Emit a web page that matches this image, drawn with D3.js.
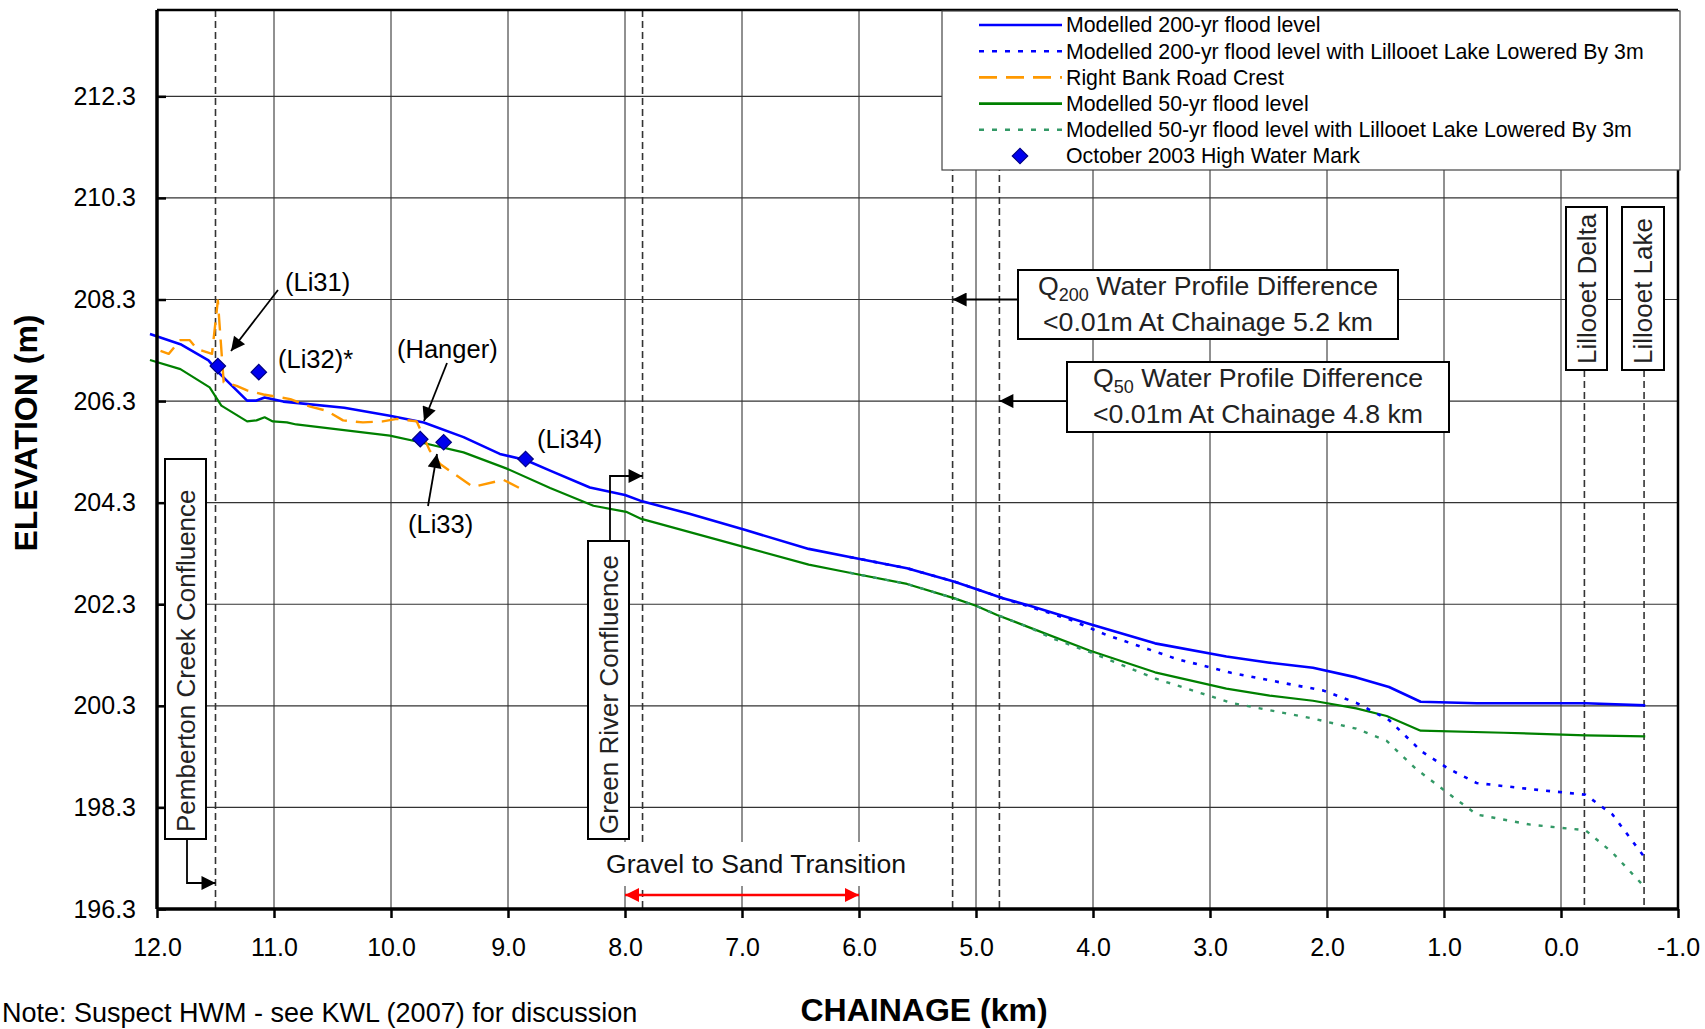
<!DOCTYPE html>
<html>
<head>
<meta charset="utf-8">
<script src="https://cdn.jsdelivr.net/npm/d3@7"></script>
<style>
  body { margin: 0; background: #fff; }
  svg { display: block; font-family: "Liberation Sans", Arial, sans-serif; }
</style>
</head>
<body>
<script>
// chainage (km) and water levels (m)
var q200Km = [12.06, 11.80, 11.56, 11.46, 11.23, 11.15, 11.08, 10.92, 10.40, 10.01, 9.72, 9.38, 9.07, 8.85, 8.64, 8.30, 8.00, 7.87, 7.45, 6.97, 6.43, 6.08, 5.59, 5.19, 5.00, 4.77, 4.54, 4.03, 3.47, 2.86, 2.49, 2.12, 1.75, 1.47, 1.20, 0.72, -0.21, -0.72];
var q200Elev = [207.62, 207.42, 207.10, 206.83, 206.31, 206.31, 206.37, 206.29, 206.17, 206.01, 205.88, 205.59, 205.26, 205.14, 204.93, 204.60, 204.45, 204.34, 204.08, 203.76, 203.39, 203.23, 203.01, 202.75, 202.60, 202.42, 202.27, 201.91, 201.53, 201.27, 201.15, 201.05, 200.86, 200.67, 200.38, 200.35, 200.35, 200.31];

var q200LowKm = [6.08, 5.59, 5.19, 5.00, 4.77, 4.54, 4.21, 3.89, 3.28, 2.82, 2.35, 2.03, 1.75, 1.47, 1.19, 0.96, 0.72, 0.26, -0.21, -0.44, -0.72];
var q200LowElev = [203.23, 203.01, 202.75, 202.60, 202.42, 202.25, 202.01, 201.70, 201.22, 200.95, 200.74, 200.60, 200.36, 200.02, 199.40, 199.06, 198.78, 198.66, 198.55, 198.16, 197.30];

var roadKm = [11.97, 11.90, 11.80, 11.72, 11.66, 11.53, 11.48, 11.43, 11.32, 11.23, 11.09, 10.86, 10.69, 10.55, 10.41, 10.24, 10.07, 9.95, 9.78, 9.67, 9.58, 9.30, 9.04, 8.87];
var roadElev = [207.29, 207.23, 207.50, 207.50, 207.33, 207.23, 208.28, 206.67, 206.60, 206.51, 206.43, 206.34, 206.19, 206.11, 205.92, 205.88, 205.90, 205.95, 205.90, 205.33, 205.06, 204.61, 204.75, 204.55];

var q50Km = [12.06, 11.80, 11.55, 11.45, 11.23, 11.15, 11.08, 11.01, 10.89, 10.81, 10.01, 9.75, 9.38, 9.01, 8.64, 8.27, 7.99, 7.86, 6.97, 6.43, 6.08, 5.59, 5.19, 5.00, 4.82, 4.54, 4.03, 3.47, 2.86, 2.49, 2.12, 1.75, 1.49, 1.20, 0.49, -0.21, -0.72];
var q50Elev = [207.11, 206.93, 206.57, 206.21, 205.90, 205.92, 205.98, 205.90, 205.88, 205.84, 205.62, 205.49, 205.29, 204.97, 204.59, 204.24, 204.12, 203.98, 203.42, 203.08, 202.92, 202.70, 202.42, 202.27, 202.09, 201.84, 201.39, 200.96, 200.64, 200.50, 200.40, 200.25, 200.10, 199.81, 199.77, 199.72, 199.70];

var q50LowKm = [6.08, 5.59, 5.19, 5.00, 4.82, 4.54, 4.35, 4.03, 3.47, 2.82, 2.12, 1.75, 1.49, 1.24, 0.96, 0.72, 0.26, -0.21, -0.44, -0.72];
var q50LowElev = [202.92, 202.70, 202.42, 202.27, 202.09, 201.84, 201.63, 201.36, 200.84, 200.36, 200.05, 199.85, 199.61, 199.06, 198.57, 198.16, 197.96, 197.85, 197.41, 196.72];

var hwmKm = [11.48, 11.13, 9.75, 9.55, 8.85];
var hwmElev = [206.99, 206.87, 205.55, 205.49, 205.16];

var xTicks = [12, 11, 10, 9, 8, 7, 6, 5, 4, 3, 2, 1, 0, -1];
var yTicks = [196.3, 198.3, 200.3, 202.3, 204.3, 206.3, 208.3, 210.3, 212.3];

var legendLabels = ["Modelled 200-yr flood level", "Modelled 200-yr flood level with Lillooet Lake Lowered By 3m",
  "Right Bank Road Crest", "Modelled 50-yr flood level", "Modelled 50-yr flood level with Lillooet Lake Lowered By 3m",
  "October 2003 High Water Mark"];

window.addEventListener("load", function() {
  var width = 1705, height = 1029;
  var left = 157, right = 1678, top = 10, bottom = 909;

  var x = d3.scaleLinear().domain([12, -1]).range([left, right]);
  var y = d3.scaleLinear().domain([196.3, 214]).range([bottom, top]);

  var svg = d3.select("body").append("svg")
    .attr("width", width)
    .attr("height", height);

  var defs = svg.append("defs");
  defs.append("marker").attr("id", "arr")
    .attr("viewBox", "0 0 10 10").attr("refX", 10).attr("refY", 5)
    .attr("markerWidth", 18).attr("markerHeight", 14).attr("markerUnits", "userSpaceOnUse")
    .attr("orient", "auto")
    .append("path").attr("d", "M0,0L10,5L0,10z").attr("fill", "#000");
  defs.append("marker").attr("id", "redArr")
    .attr("viewBox", "0 0 10 10").attr("refX", 10).attr("refY", 5)
    .attr("markerWidth", 16).attr("markerHeight", 14).attr("markerUnits", "userSpaceOnUse")
    .attr("orient", "auto-start-reverse")
    .append("path").attr("d", "M0,0L10,5L0,10z").attr("fill", "#ff0000");

  // grid
  svg.append("g").selectAll("line")
    .data(xTicks.slice(1, -1))
    .enter().append("line")
    .attr("x1", function(d) { return x(d); }).attr("x2", function(d) { return x(d); })
    .attr("y1", top).attr("y2", bottom)
    .attr("stroke", "#222").attr("stroke-width", 1);
  svg.append("g").selectAll("line")
    .data(yTicks.slice(1))
    .enter().append("line")
    .attr("x1", left).attr("x2", right)
    .attr("y1", function(d) { return y(d); }).attr("y2", function(d) { return y(d); })
    .attr("stroke", "#333").attr("stroke-width", 1.2);

  // reference lines (dashed)
  var refs = [[11.5, top], [7.85, top], [5.2, top], [4.8, top], [-0.2, 370], [-0.71, 370]];
  svg.append("g").selectAll("line")
    .data(refs)
    .enter().append("line")
    .attr("x1", function(d) { return x(d[0]); }).attr("x2", function(d) { return x(d[0]); })
    .attr("y1", function(d) { return d[1]; }).attr("y2", bottom)
    .attr("stroke", "#333").attr("stroke-width", 1.6)
    .attr("stroke-dasharray", "7,4");

  // white patch behind the transition label
  svg.append("rect").attr("x", 592).attr("y", 842).attr("width", 340).attr("height", 44).attr("fill", "#fff");

  function series(km, elev) {
    return d3.zip(km, elev);
  }
  var line = d3.line()
    .x(function(d) { return x(d[0]); })
    .y(function(d) { return y(d[1]); });

  var lines = [
    {pts: series(q200Km, q200Elev), color: "#0000ff", w: 2.6, dash: null},
    {pts: series(q50Km, q50Elev), color: "#008000", w: 2.2, dash: null},
    {pts: series(q200LowKm, q200LowElev), color: "#0000ff", w: 2.6, dash: "4,8"},
    {pts: series(q50LowKm, q50LowElev), color: "#339966", w: 2.4, dash: "4,8"},
    {pts: series(roadKm, roadElev), color: "#ff9900", w: 2.4, dash: "17,9"}
  ];
  svg.append("g").selectAll("path")
    .data(lines)
    .enter().append("path")
    .attr("d", function(d) { return line(d.pts); })
    .attr("fill", "none")
    .attr("stroke", function(d) { return d.color; })
    .attr("stroke-width", function(d) { return d.w; })
    .attr("stroke-dasharray", function(d) { return d.dash; })
    .attr("stroke-linejoin", "round");

  var diamond = d3.symbol().type(d3.symbolSquare).size(120);
  svg.append("g").selectAll("path")
    .data(series(hwmKm, hwmElev))
    .enter().append("path")
    .attr("d", diamond)
    .attr("transform", function(d) { return "translate(" + x(d[0]) + "," + y(d[1]) + ") rotate(45)"; })
    .attr("fill", "#0000ee").attr("stroke", "#000080").attr("stroke-width", 1.2);

  // frame and axes
  svg.append("line").attr("x1", left).attr("x2", right).attr("y1", top).attr("y2", top)
    .attr("stroke", "#000").attr("stroke-width", 2.5);
  svg.append("line").attr("x1", right).attr("x2", right).attr("y1", top).attr("y2", bottom)
    .attr("stroke", "#000").attr("stroke-width", 2.5);

  var xAxis = svg.append("g").attr("transform", "translate(0," + bottom + ")")
    .call(d3.axisBottom(x).tickValues(xTicks).tickSize(9).tickPadding(20)
      .tickFormat(function(d) { return d.toFixed(1); }));
  var yAxis = svg.append("g").attr("transform", "translate(" + left + ",0)")
    .call(d3.axisLeft(y).tickValues(yTicks).tickSize(-9).tickPadding(21)
      .tickFormat(function(d) { return d.toFixed(1); }));
  [xAxis, yAxis].forEach(function(a) {
    a.select(".domain").attr("stroke", "#000").attr("stroke-width", 3.5);
    a.selectAll(".tick line").attr("stroke", "#000").attr("stroke-width", 2.5);
    a.selectAll(".tick text").attr("font-size", 25).attr("fill", "#000")
      .attr("font-family", "Liberation Sans, Arial, sans-serif");
  });
  xAxis.select(".domain").attr("d", "M" + left + ",0H" + right);
  yAxis.select(".domain").attr("d", "M0," + top + "V" + bottom);

  svg.append("text").attr("transform", "translate(37,433) rotate(-90)")
    .attr("text-anchor", "middle").attr("font-size", 32).attr("font-weight", "bold")
    .text("ELEVATION (m)");
  svg.append("text").attr("x", 924).attr("y", 1021)
    .attr("text-anchor", "middle").attr("font-size", 32).attr("font-weight", "bold")
    .text("CHAINAGE (km)");
  svg.append("text").attr("x", 2).attr("y", 1022)
    .attr("font-size", 27)
    .text("Note: Suspect HWM - see KWL (2007) for discussion");

  // legend
  var lg = svg.append("g");
  lg.append("rect").attr("x", 942).attr("y", top + 1).attr("width", 738).attr("height", 159)
    .attr("fill", "#fff").attr("stroke", "#444").attr("stroke-width", 1.2);
  var legendStyle = [
    {color: "#0000ff", dash: null}, {color: "#0000ff", dash: "5,8"}, {color: "#ff9900", dash: "18,9"},
    {color: "#008000", dash: null}, {color: "#339966", dash: "5,8"}, {color: null}
  ];
  var rows = lg.selectAll("g").data(legendLabels).enter().append("g")
    .attr("transform", function(d, i) { return "translate(0," + (25 + i * 26.2) + ")"; });
  rows.append("text").attr("x", 1066).attr("dy", "0.35em").attr("font-size", 21.3)
    .text(function(d) { return d; });
  rows.each(function(d, i) {
    var s = legendStyle[i];
    if (s.color) {
      d3.select(this).append("line").attr("x1", 979).attr("x2", 1062)
        .attr("stroke", s.color).attr("stroke-width", 2.6).attr("stroke-dasharray", s.dash);
    } else {
      d3.select(this).append("path").attr("d", diamond)
        .attr("transform", "translate(1020,0) rotate(45)")
        .attr("fill", "#0000ee").attr("stroke", "#000080").attr("stroke-width", 1.2);
    }
  });

  // callout labels
  var ann = svg.append("g").attr("font-size", 25.5);
  function label(tx, ty, s) {
    ann.append("text").attr("x", tx).attr("y", ty).attr("dy", "0.35em").text(s);
  }
  function arrow(pts, marker) {
    ann.append("path").attr("d", d3.line()(pts)).attr("fill", "none")
      .attr("stroke", "#000").attr("stroke-width", 1.8)
      .attr("marker-end", "url(#" + (marker || "arr") + ")");
  }
  label(285, 282, "(Li31)");
  arrow([[278, 290], [231, 351]]);
  label(278, 359, "(Li32)*");
  label(397, 349, "(Hanger)");
  arrow([[447, 363], [424, 421]]);
  label(408, 524, "(Li33)");
  arrow([[428, 506], [437, 454]]);
  label(537, 439, "(Li34)");

  // vertical boxed labels, text runs up from the bottom of the box
  function vbox(x0, y0, w, h, s, pad) {
    ann.append("rect").attr("x", x0).attr("y", y0).attr("width", w).attr("height", h)
      .attr("fill", "#fff").attr("stroke", "#000").attr("stroke-width", 2);
    ann.append("text").attr("transform", "translate(" + (x0 + w / 2) + "," + (y0 + h - pad) + ") rotate(-90)")
      .attr("text-anchor", "start").attr("dy", "0.35em").attr("font-size", 26).attr("fill", "#222")
      .text(s);
  }
  vbox(165, 459, 41, 380, "Pemberton Creek Confluence", 7);
  arrow([[187, 839], [187, 883], [x(11.5), 883]]);
  vbox(588, 541, 41, 298, "Green River Confluence", 5);
  arrow([[610, 541], [610, 476], [x(7.85), 476]]);
  vbox(1566, 207, 41, 163, "Lillooet Delta", 6);
  vbox(1622, 207, 42, 163, "Lillooet Lake", 6);

  // profile difference boxes
  function qbox(x0, y0, w, h, sub, s2, target, ay) {
    ann.append("rect").attr("x", x0).attr("y", y0).attr("width", w).attr("height", h)
      .attr("fill", "#fff").attr("stroke", "#000").attr("stroke-width", 2);
    var t = ann.append("text").attr("x", x0 + w / 2).attr("y", y0 + 16).attr("dy", "0.35em")
      .attr("text-anchor", "middle").attr("fill", "#222").attr("font-size", 26.7);
    t.append("tspan").text("Q");
    t.append("tspan").attr("font-size", 18).attr("dy", 6).text(sub);
    t.append("tspan").attr("dy", -6).text(" Water Profile Difference");
    ann.append("text").attr("x", x0 + w / 2).attr("y", y0 + 52).attr("dy", "0.35em")
      .attr("text-anchor", "middle").attr("fill", "#222").attr("font-size", 26.7).text(s2);
    arrow([[x0, ay], [x(target), ay]]);
  }
  qbox(1018, 270, 380, 69, "200", "<0.01m At Chainage 5.2 km", 5.2, y(208.3));
  qbox(1067, 362, 382, 70, "50", "<0.01m At Chainage 4.8 km", 4.8, y(206.3));

  // gravel to sand transition
  svg.append("text").attr("x", 756).attr("y", 864).attr("dy", "0.35em")
    .attr("text-anchor", "middle").attr("font-size", 26.6).attr("fill", "#111")
    .text("Gravel to Sand Transition");
  svg.append("line").attr("x1", x(8.0)).attr("x2", x(6.0)).attr("y1", 895).attr("y2", 895)
    .attr("stroke", "#ff0000").attr("stroke-width", 2.4)
    .attr("marker-start", "url(#redArr)").attr("marker-end", "url(#redArr)");
});
</script>
</body>
</html>
